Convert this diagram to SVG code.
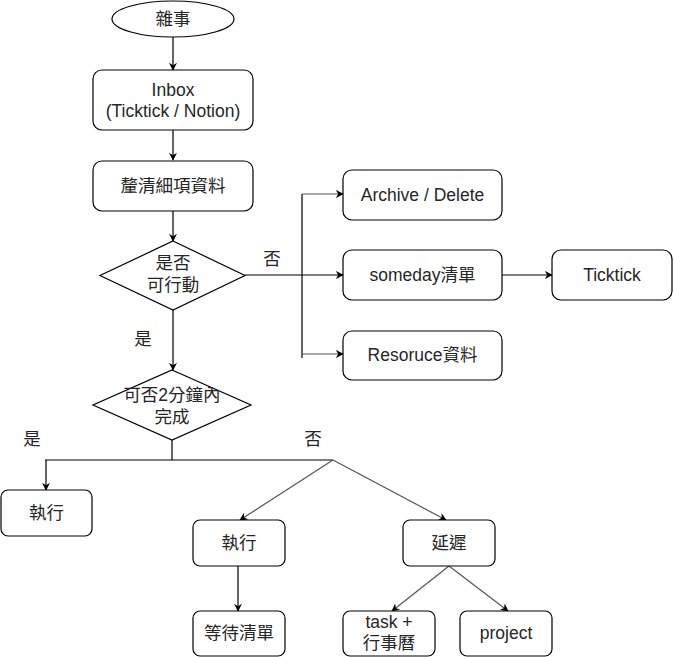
<svg xmlns="http://www.w3.org/2000/svg" width="674" height="657" viewBox="0 0 674 657">
  <style>
    .shape { fill: #ffffff; stroke: #000000; stroke-width: 1.2; }
    .lbl { font-family: "Liberation Sans", Arial, "Noto Sans CJK TC", sans-serif; font-size: 17.5px; fill: #262626; text-anchor: middle; dominant-baseline: central; }
    .edge { fill: none; stroke: #000000; stroke-width: 1.2; }
    .edge.soft { stroke: #555555; }
  </style>
  <defs>
    <marker id="arrow" viewBox="0 0 10 10" refX="9" refY="5" markerWidth="8" markerHeight="8" markerUnits="userSpaceOnUse" orient="auto">
      <path d="M0,0 L10,5 L0,10 L3,5 Z" fill="#000000"/>
    </marker>
  </defs>
  <rect width="674" height="657" fill="#ffffff"/>

  <!-- connectors -->
  <g id="connectors">
    <line class="edge" x1="173" y1="37" x2="173" y2="70" marker-end="url(#arrow)"/>
    <line class="edge" x1="173" y1="130" x2="173" y2="160" marker-end="url(#arrow)"/>
    <line class="edge" x1="173" y1="211" x2="173" y2="241" marker-end="url(#arrow)"/>
    <line class="edge" x1="245" y1="275" x2="343" y2="275" marker-end="url(#arrow)"/>
    <line class="edge" x1="302" y1="194" x2="302" y2="358"/>
    <line class="edge soft" x1="302" y1="194" x2="343" y2="194" marker-end="url(#arrow)"/>
    <line class="edge soft" x1="302" y1="354" x2="343" y2="354" marker-end="url(#arrow)"/>
    <line class="edge" x1="502" y1="275" x2="552" y2="275" marker-end="url(#arrow)"/>
    <line class="edge" x1="173" y1="310" x2="173" y2="370" marker-end="url(#arrow)"/>
    <polyline class="edge" points="172,440 172,460"/>
    <line class="edge" x1="45" y1="460" x2="333" y2="460"/>
    <line class="edge" x1="46" y1="460" x2="46" y2="490" marker-end="url(#arrow)"/>
    <line class="edge soft" x1="333" y1="460" x2="240" y2="520" marker-end="url(#arrow)"/>
    <line class="edge soft" x1="333" y1="460" x2="446" y2="520" marker-end="url(#arrow)"/>
    <line class="edge" x1="238" y1="566" x2="238" y2="611" marker-end="url(#arrow)"/>
    <line class="edge soft" x1="449" y1="566" x2="392" y2="611" marker-end="url(#arrow)"/>
    <line class="edge soft" x1="449" y1="566" x2="508" y2="611" marker-end="url(#arrow)"/>
  </g>

  <!-- branch labels -->
  <g id="edge-labels">
    <text class="lbl" x="272" y="259">否</text>
    <text class="lbl" x="143" y="339">是</text>
    <text class="lbl" x="32" y="439">是</text>
    <text class="lbl" x="313" y="439">否</text>
  </g>

  <g id="start">
    <ellipse class="shape" cx="173" cy="19" rx="61" ry="18"/>
    <text class="lbl" x="173" y="19">雜事</text>
  </g>
  <g id="inbox">
    <rect class="shape" x="93" y="70" width="160" height="60" rx="9"/>
    <text class="lbl" x="173" y="90">Inbox</text>
    <text class="lbl" x="173" y="111">(Ticktick / Notion)</text>
  </g>
  <g id="clarify">
    <rect class="shape" x="93" y="161" width="160" height="50" rx="9"/>
    <text class="lbl" x="173" y="186">釐清細項資料</text>
  </g>
  <g id="actionable">
    <polygon class="shape" points="173,241 245,275.5 173,310 100,275.5"/>
    <text class="lbl" x="173" y="263">是否</text>
    <text class="lbl" x="173" y="285">可行動</text>
  </g>
  <g id="archive">
    <rect class="shape" x="343" y="170" width="159" height="50" rx="9"/>
    <text class="lbl" x="422.5" y="195">Archive / Delete</text>
  </g>
  <g id="someday">
    <rect class="shape" x="343" y="250" width="159" height="50" rx="9"/>
    <text class="lbl" x="422.5" y="275">someday清單</text>
  </g>
  <g id="ticktick">
    <rect class="shape" x="552" y="250" width="120" height="50" rx="9"/>
    <text class="lbl" x="612" y="275">Ticktick</text>
  </g>
  <g id="resource">
    <rect class="shape" x="343" y="331" width="159" height="49" rx="9"/>
    <text class="lbl" x="422.5" y="355">Resoruce資料</text>
  </g>
  <g id="two-minutes">
    <polygon class="shape" points="172,370 251,405 172,440 93,405"/>
    <text class="lbl" x="172" y="395">可否2分鐘內</text>
    <text class="lbl" x="172" y="417">完成</text>
  </g>
  <g id="do-now">
    <rect class="shape" x="1" y="490" width="91" height="46" rx="7"/>
    <text class="lbl" x="46.5" y="513">執行</text>
  </g>
  <g id="do">
    <rect class="shape" x="193" y="520" width="92" height="46" rx="7"/>
    <text class="lbl" x="239" y="543">執行</text>
  </g>
  <g id="defer">
    <rect class="shape" x="403" y="520" width="92" height="46" rx="7"/>
    <text class="lbl" x="449" y="543">延遲</text>
  </g>
  <g id="waiting">
    <rect class="shape" x="193" y="611" width="92" height="45" rx="7"/>
    <text class="lbl" x="239" y="633">等待清單</text>
  </g>
  <g id="task-calendar">
    <rect class="shape" x="343" y="611" width="92" height="45" rx="7"/>
    <text class="lbl" x="389" y="622">task +</text>
    <text class="lbl" x="389" y="643">行事曆</text>
  </g>
  <g id="project">
    <rect class="shape" x="460" y="611" width="92" height="45" rx="7"/>
    <text class="lbl" x="506" y="633">project</text>
  </g>
</svg>
